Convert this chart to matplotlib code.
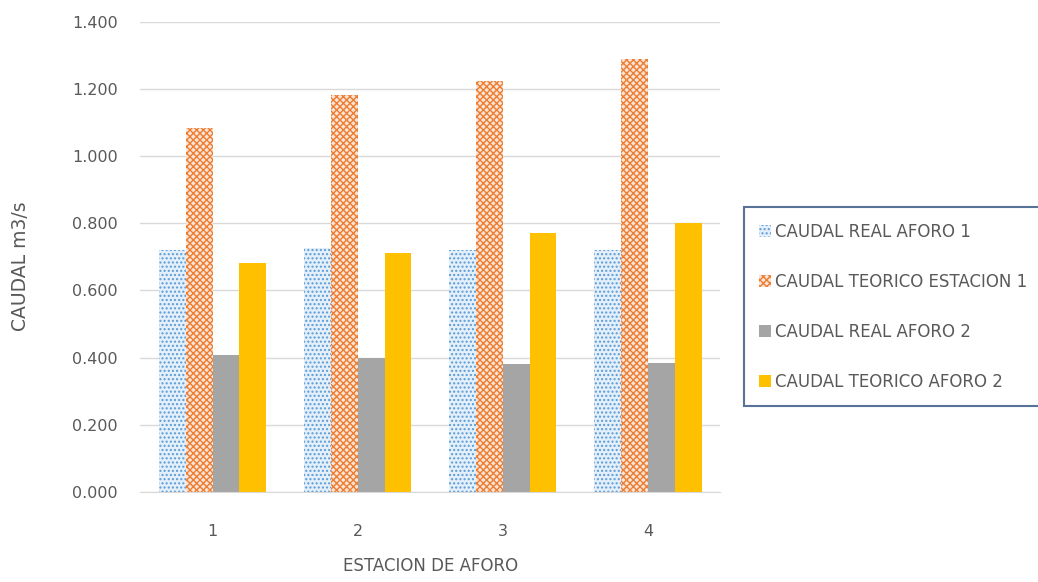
import numpy
from matplotlib import pyplot

pyplot.rcParams['font.family'] = ['DejaVu Sans']
pyplot.rcParams['hatch.linewidth'] = 1.0

stations = ['1', '2', '3', '4']
series_names = ['CAUDAL REAL AFORO 1', 'CAUDAL TEORICO ESTACION 1',
                'CAUDAL REAL AFORO 2', 'CAUDAL TEORICO AFORO 2']
real_aforo_1 = [0.721, 0.725, 0.720, 0.720]
teorico_estacion_1 = [1.084, 1.182, 1.225, 1.290]
real_aforo_2 = [0.408, 0.398, 0.380, 0.383]
teorico_aforo_2 = [0.682, 0.713, 0.770, 0.800]

fig = pyplot.figure(figsize=(10.38, 5.82), dpi=100)
ax = fig.add_axes([0.135, 0.1546, 0.559, 0.808])

x = numpy.arange(len(stations))
width = 0.185
grey_text = '#595959'

ax.bar(x - 1.5 * width, real_aforo_1, width, color='#e3effa', edgecolor='#5b9bd5',
       hatch='....', linewidth=0, label=series_names[0])
ax.bar(x - 0.5 * width, teorico_estacion_1, width, color='#fbe3d5', edgecolor='#ed7d31',
       hatch='xxxxx', linewidth=0, label=series_names[1])
ax.bar(x + 0.5 * width, real_aforo_2, width, color='#a5a5a5', linewidth=0,
       label=series_names[2])
ax.bar(x + 1.5 * width, teorico_aforo_2, width, color='#ffc000', linewidth=0,
       label=series_names[3])

ax.set_ylim(0, 1.4)
ax.set_yticks(numpy.arange(0, 1.41, 0.2))
ax.set_yticklabels([f'{v:.3f}' for v in numpy.arange(0, 1.41, 0.2)])
ax.set_xlim(-0.5, 3.5)
ax.set_xticks(x)
ax.set_xticklabels(stations)
ax.yaxis.grid(True, color='#d9d9d9', linewidth=1)
ax.set_axisbelow(True)
for side in ['top', 'right', 'left']:
    ax.spines[side].set_visible(False)
ax.spines['bottom'].set_color('#d9d9d9')
ax.tick_params(length=0, colors=grey_text, labelsize=11.5)
ax.tick_params(axis='y', pad=16)
ax.tick_params(axis='x', pad=23)

ax.set_ylabel('CAUDAL m3/s', color=grey_text, fontsize=13.5)
ax.yaxis.set_label_coords(-0.19, 0.481)
ax.set_xlabel('ESTACION DE AFORO', color=grey_text, fontsize=12)
ax.xaxis.set_label_coords(0.5, -0.138)

leg = ax.legend(loc='center left', bbox_to_anchor=(1.04, 0.394), frameon=True,
                fontsize=12, labelcolor=grey_text, handlelength=0.7, handleheight=0.7,
                handletextpad=0.25, labelspacing=1.92, borderpad=0.93, borderaxespad=0,
                fancybox=False)
leg.get_frame().set_edgecolor('#2f4f7f')
leg.get_frame().set_linewidth(1.5)

fig.savefig('out.png', dpi=100)
